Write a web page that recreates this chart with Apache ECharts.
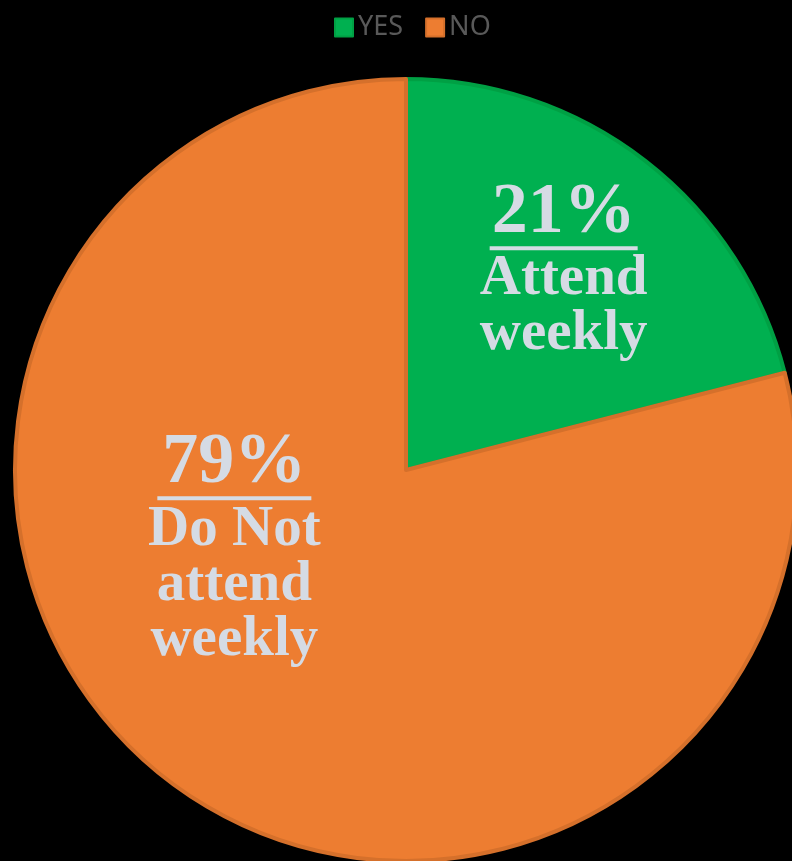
<!DOCTYPE html>
<html>
<head>
<meta charset="utf-8">
<script src="https://cdn.jsdelivr.net/npm/echarts@6/dist/echarts.min.js"></script>
<style>
  html, body { margin: 0; padding: 0; background: #000; }
  #chart { width: 792px; height: 861px; }
</style>
</head>
<body>
<div id="chart"></div>
<script>
// Weekly attendance split
const categories = ['YES', 'NO']
const values = [21, 79]
const captions = [['Attend', 'weekly'], ['Do Not', 'attend', 'weekly']]

const sliceColors = ['#00b050', '#ed7d31']
const sliceBorders = ['#00a044', '#d5702b']
// nudge each label away from the default "inside" point
const labelShift = [[36, -41], [-50, -77]]
const underlineWidth = [148, 154]

const TEXT = '#d5dbe4'

const chart = echarts.init(document.getElementById('chart'))

chart.setOption({
  backgroundColor: '#000',
  animation: false,
  legend: {
    top: 9,
    left: 329,
    itemWidth: 18,
    itemHeight: 18,
    itemGap: 22,
    icon: 'rect',
    textStyle: {
      color: '#595959',
      fontFamily: 'Noto Sans',
      fontSize: 27,
    },
    data: categories,
  },
  series: [
    {
      type: 'pie',
      center: [406, 470],
      radius: 391,
      startAngle: 90,
      clockwise: true,
      avoidLabelOverlap: false,
      data: categories.map((name, i) => ({
        name: name,
        value: values[i],
        itemStyle: {
          color: sliceColors[i],
          borderColor: sliceBorders[i],
          borderWidth: 4,
        },
        label: {
          formatter: [
            '{p|' + values[i] + '%}',
            '{u|}',
            ...captions[i].map((t) => '{t|' + t + '}'),
          ].join('\n'),
          rich: {
            p: {
              fontFamily: 'Liberation Serif',
              fontWeight: 'bold',
              fontSize: 72,
              lineHeight: 62,
              color: TEXT,
              align: 'center',
            },
            u: {
              width: underlineWidth[i],
              height: 4,
              lineHeight: 8,
              backgroundColor: TEXT,
              align: 'center',
            },
            t: {
              fontFamily: 'Liberation Serif',
              fontWeight: 'bold',
              fontSize: 57,
              lineHeight: 55,
              color: TEXT,
              align: 'center',
            },
          },
        },
      })),
      label: {
        show: true,
        position: 'inside',
      },
      labelLine: { show: false },
      emphasis: { disabled: true },
      labelLayout: (params) => ({
        dx: labelShift[params.dataIndex][0],
        dy: labelShift[params.dataIndex][1],
      }),
    },
  ],
})
</script>
</body>
</html>
